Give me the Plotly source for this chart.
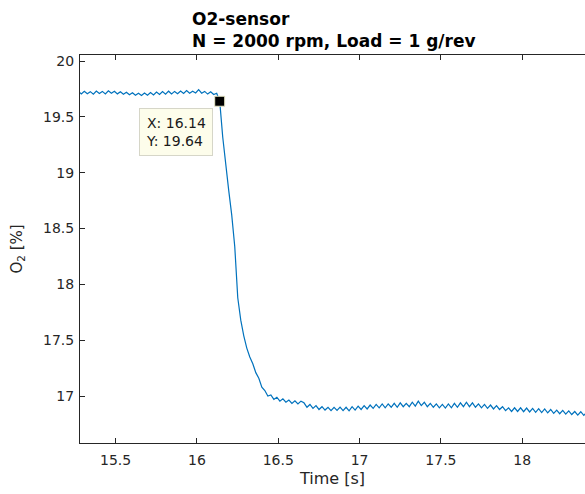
import numpy as np
import plotly.graph_objects as go

# sample grid (s)
t_start = 15.2705
t_step = 0.0185

# O2 readings [%], one per sample
o2 = [
    19.728, 19.706, 19.730, 19.708, 19.726, 19.704, 19.732, 19.710, 19.728, 19.706,
    19.734, 19.712, 19.730, 19.706, 19.724, 19.702, 19.720, 19.698, 19.716, 19.694,
    19.712, 19.692, 19.714, 19.694, 19.718, 19.696, 19.722, 19.700, 19.726, 19.704,
    19.730, 19.706, 19.728, 19.708, 19.732, 19.710, 19.736, 19.712, 19.730, 19.714,
    19.744, 19.712, 19.728, 19.704, 19.724, 19.700, 19.712,
    19.640,
    19.32, 19.05, 18.84, 18.62, 18.34, 17.88, 17.68, 17.54, 17.43, 17.35,
    17.29, 17.21, 17.16, 17.08, 17.05, 17.00, 17.01, 16.97, 16.99, 16.955,
    16.975, 16.945, 16.965, 16.935, 16.958, 16.93, 16.955, 16.94, 16.90, 16.925,
    16.89, 16.915, 16.88, 16.905, 16.875, 16.90, 16.87, 16.90, 16.872, 16.902,
    16.87, 16.90, 16.868, 16.905, 16.875, 16.91, 16.88, 16.915, 16.885, 16.92,
    16.89, 16.925, 16.895, 16.93, 16.895, 16.93, 16.90, 16.935, 16.90, 16.94,
    16.905, 16.935, 16.905, 16.945, 16.91, 16.955, 16.915, 16.945, 16.905, 16.935,
    16.90, 16.93, 16.895, 16.925, 16.893, 16.93, 16.895, 16.935, 16.90, 16.94,
    16.905, 16.945, 16.905, 16.94, 16.90, 16.93, 16.895, 16.925, 16.89, 16.92,
    16.885, 16.915, 16.88, 16.905, 16.87, 16.895, 16.862, 16.895, 16.862, 16.895,
    16.86, 16.893, 16.858, 16.89, 16.855, 16.888, 16.852, 16.885, 16.85, 16.88,
    16.845, 16.875, 16.842, 16.872, 16.838, 16.868, 16.835, 16.862, 16.83, 16.86,
    16.828, 16.855,
]

# data tip
tip_x = [16.14]
tip_y = [19.64]

x_ticks = [15.5, 16, 16.5, 17, 17.5, 18]
y_ticks = [17, 17.5, 18, 18.5, 19, 19.5, 20]

time = np.round(t_start + t_step * np.arange(len(o2)), 4)

font = "DejaVu Sans"
axis_col = "#262626"

fig = go.Figure()
fig.add_trace(go.Scatter(x=time, y=o2, mode="lines",
                         line=dict(color="#0072BD", width=1.2),
                         hoverinfo="skip", showlegend=False))
fig.add_trace(go.Scatter(x=tip_x, y=tip_y, mode="markers",
                         marker=dict(symbol="square", size=10, color="black",
                                     line=dict(color="#e8e8c8", width=1)),
                         hoverinfo="skip", showlegend=False))

fig.add_annotation(x=tip_x[0], y=tip_y[0], xref="x", yref="y",
                   text=f"X: {tip_x[0]:.2f}<br>Y: {tip_y[0]:.2f}",
                   showarrow=False, xanchor="right", yanchor="top",
                   xshift=-7, yshift=-7, align="left",
                   font=dict(family=font, size=14, color="#1a1a1a"),
                   bgcolor="#fdfdeb", bordercolor="#d6d6c8", borderwidth=1,
                   borderpad=6)

# title as an annotation (left-aligned two lines)
fig.add_annotation(text="<b>O2-sensor</b><br><b>N = 2000 rpm, Load = 1 g/rev</b>",
                   xref="paper", yref="paper", x=110 / 505, y=1 + 48 / 388,
                   xanchor="left", yanchor="top", align="left", showarrow=False,
                   font=dict(family=font, size=17, color="black"))

fig.update_layout(
    width=585, height=494,
    margin=dict(l=80, r=0, t=55, b=51),
    paper_bgcolor="white", plot_bgcolor="white",
    font=dict(family=font, size=14, color=axis_col),
)
fig.update_xaxes(range=[15.281, 18.386], tickvals=x_ticks,
                 ticktext=[f"{v:g}" for v in x_ticks],
                 ticks="inside", ticklen=5, tickcolor=axis_col,
                 ticklabelstandoff=4,
                 showline=True, linecolor=axis_col, linewidth=1, mirror="ticks",
                 showgrid=False, zeroline=False,
                 title=dict(text="Time [s]", standoff=6,
                            font=dict(family=font, size=16, color=axis_col)))
fig.update_yaxes(range=[16.58, 20.054], tickvals=y_ticks,
                 ticktext=[f"{v:g}" for v in y_ticks],
                 ticks="inside", ticklen=5, tickcolor=axis_col,
                 ticklabelstandoff=2,
                 showline=True, linecolor=axis_col, linewidth=1, mirror=False,
                 showgrid=False, zeroline=False,
                 title=dict(text="O<sub>2</sub> [%]", standoff=16,
                            font=dict(family=font, size=15, color=axis_col)))

fig.write_html("out.html", config={"displayModeBar": False},
               post_script="document.body.style.margin='0';")
